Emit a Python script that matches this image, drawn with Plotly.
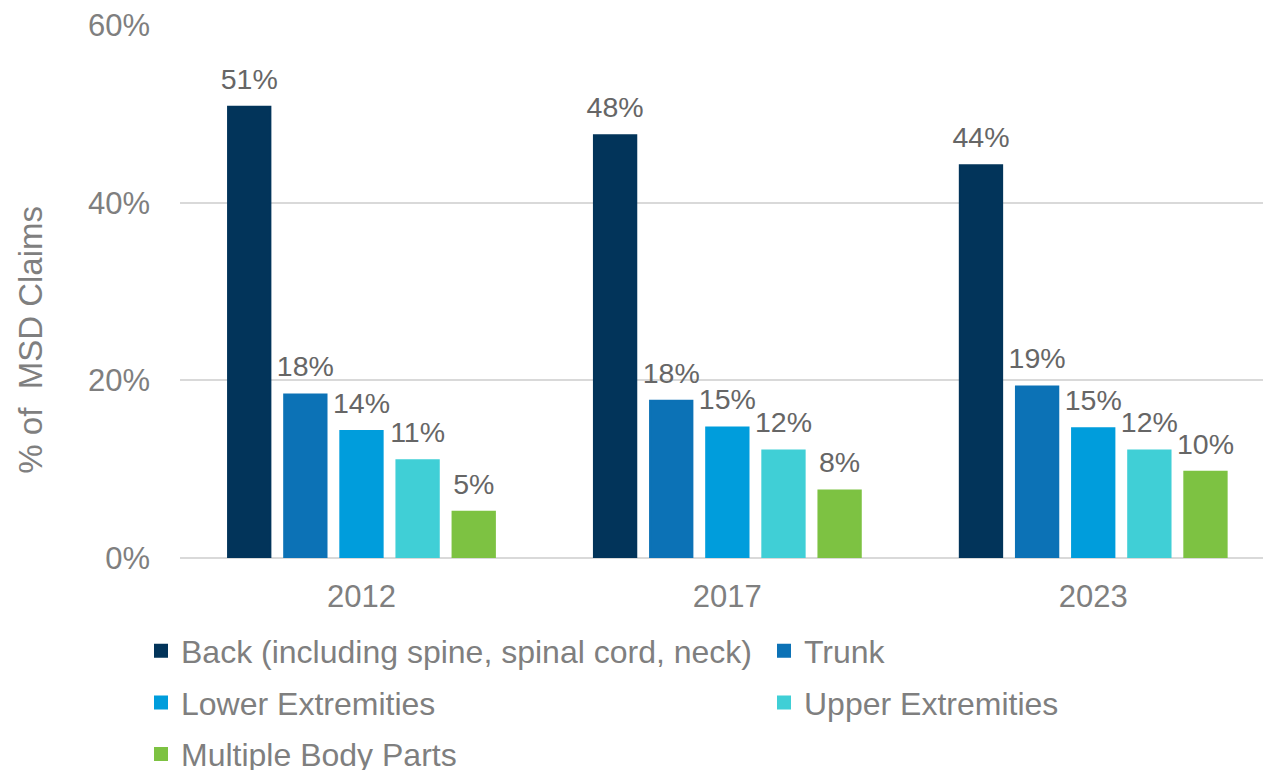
import plotly.graph_objects as go

# Share of MSD claims by body part, per study year (percent)
years = ["2012", "2017", "2023"]

back = [50.8, 47.6, 44.2]
trunk = [18.4, 17.7, 19.3]
lower_ext = [14.3, 14.7, 14.6]
upper_ext = [11.0, 12.1, 12.1]
multiple = [5.2, 7.6, 9.7]

series_names = [
    "Back (including spine, spinal cord, neck)",
    "Trunk",
    "Lower Extremities",
    "Upper Extremities",
    "Multiple Body Parts",
]
series_values = [back, trunk, lower_ext, upper_ext, multiple]
series_colors = ["#02345A", "#0C72B6", "#009DDC", "#40CFD6", "#7DC242"]
# left legend column holds series 0, 2, 4; right column holds 1, 3
legend_column = ["legend", "legend2", "legend", "legend2", "legend"]

y_ticks = [0, 20, 40, 60]
y_tick_text = ["0%", "20%", "40%", "60%"]

FONT = "Arial, Liberation Sans, sans-serif"
GREY = "#7F7F7F"
LABEL_GREY = "#666666"

fig = go.Figure()

for name, vals, color, leg in zip(series_names, series_values, series_colors, legend_column):
    fig.add_trace(go.Bar(
        x=years, y=vals, name=name,
        marker=dict(color=color, line=dict(color=color, width=2)),
        offsetgroup=name, legendgroup=name, legend=leg,
        hoverinfo="skip",
    ))

# value labels, positioned in the same group slots as the bars
for name, vals in zip(series_names, series_values):
    fig.add_trace(go.Scatter(
        x=years, y=vals, mode="markers+text",
        marker=dict(size=16, opacity=0),
        texttemplate="%{y:.0f}%", textposition="top center",
        textfont=dict(family=FONT, size=28.5, color=LABEL_GREY),
        offsetgroup=name, showlegend=False, hoverinfo="skip",
        cliponaxis=False,
    ))

legend_style = dict(
    orientation="v", traceorder="grouped", tracegroupgap=7,
    font=dict(family=FONT, size=32, color=GREY),
    bgcolor="rgba(0,0,0,0)", borderwidth=0,
    xref="container", yref="container", xanchor="left", yanchor="top",
)

fig.update_layout(
    width=1263, height=770,
    margin=dict(l=180, r=0, t=25, b=212, autoexpand=False),
    paper_bgcolor="white", plot_bgcolor="white",
    barmode="group", bargap=0.233, bargroupgap=0.246,
    scattermode="group", scattergap=0.233,
    font=dict(family=FONT, color=GREY),
    legend=dict(legend_style, x=141 / 1263, y=1 - 623.5 / 770),
    legend2=dict(legend_style, x=764 / 1263, y=1 - 623.5 / 770),
    xaxis=dict(
        type="category", range=[-0.496, 2.464],
        showgrid=False, showline=False, ticks="",
        tickfont=dict(family=FONT, size=31, color=GREY),
        ticklabelstandoff=17,
    ),
    yaxis=dict(
        range=[0, 60], tickvals=y_ticks, ticktext=y_tick_text,
        showgrid=True, gridcolor="#D9D9D9", gridwidth=1.5,
        zeroline=True, zerolinecolor="#D9D9D9", zerolinewidth=1.5,
        showline=False, ticks="",
        tickfont=dict(family=FONT, size=31, color=GREY),
        ticklabelstandoff=29,
    ),
    annotations=[dict(
        text="% of  MSD Claims", textangle=-90,
        xref="paper", yref="paper",
        x=(31 - 180) / 1083, y=(558.3 - 340) / 533,
        xanchor="center", yanchor="middle", showarrow=False,
        font=dict(family=FONT, size=33, color=GREY),
    )],
    showlegend=True,
)

fig.write_html("out.html")
